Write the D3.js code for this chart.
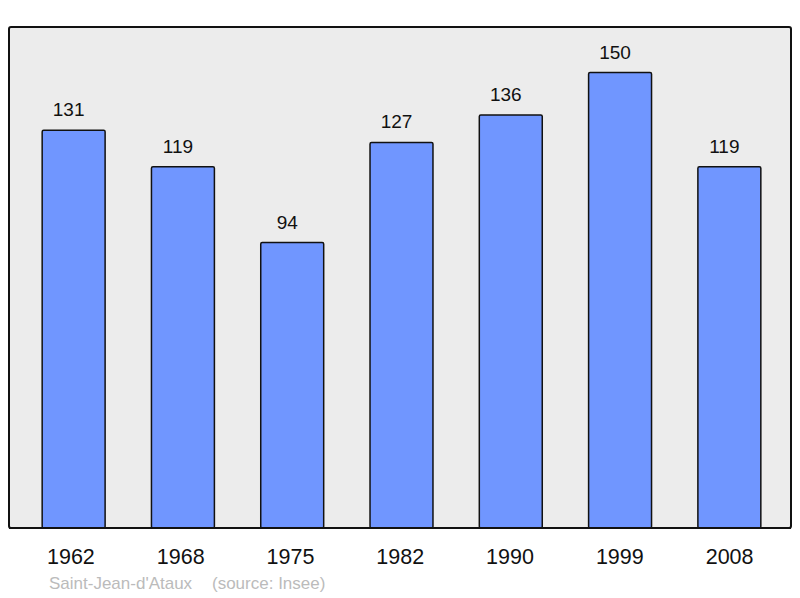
<!DOCTYPE html>
<html>
<head>
<meta charset="utf-8">
<script src="https://cdn.jsdelivr.net/npm/d3@7"></script>
<style>
  html, body { margin: 0; padding: 0; background: #ffffff; }
  svg { display: block; font-family: "Liberation Sans", Arial, sans-serif; }
</style>
</head>
<body>
<svg id="chart" width="800" height="598"></svg>
<script>
const years = ["1962", "1968", "1975", "1982", "1990", "1999", "2008"];
const population = [131, 119, 94, 127, 136, 150, 119];
const commune = "Saint-Jean-d'Ataux";
const sourceLabel = "(source: Insee)";

const svg = d3.select("#chart");
const frame = { left: 9, top: 27, right: 791, bottom: 528 };

svg.append("rect")
  .attr("x", frame.left).attr("y", frame.top)
  .attr("width", frame.right - frame.left).attr("height", frame.bottom - frame.top)
  .attr("rx", 2).attr("ry", 2)
  .attr("fill", "#ececec").attr("stroke", "#111").attr("stroke-width", 2);

const x = d3.scaleBand()
  .domain(years)
  .range([19, 784])
  .paddingInner(0.424)
  .paddingOuter(0.212);

// label positions (slightly different spacing in the original)
const xLabel = d3.scaleBand()
  .domain(years)
  .range([16, 784.5])
  .padding(0);

const y = d3.scaleLinear()
  .domain([0, 165])
  .range([frame.bottom, frame.top]);

const data = years.map((yr, i) => ({ year: yr, value: population[i] }));

svg.append("g").selectAll("rect")
  .data(data)
  .join("rect")
  .attr("x", d => x(d.year))
  .attr("y", d => y(d.value))
  .attr("width", x.bandwidth())
  .attr("height", d => y(0) - y(d.value))
  .attr("rx", 1.5).attr("ry", 1.5)
  .attr("fill", "#7096ff")
  .attr("stroke", "#111")
  .attr("stroke-width", 1.5);

svg.append("g").selectAll("text")
  .data(data)
  .join("text")
  .attr("x", d => x(d.year) + x.bandwidth() / 2 - 5)
  .attr("y", d => y(d.value) - 14)
  .attr("text-anchor", "middle")
  .attr("font-size", 19)
  .attr("fill", "#111")
  .text(d => d.value);

svg.append("line")
  .attr("x1", frame.left).attr("x2", frame.right)
  .attr("y1", frame.bottom).attr("y2", frame.bottom)
  .attr("stroke", "#111").attr("stroke-width", 2);

const xAxis = d3.axisBottom(xLabel).tickSize(0).tickPadding(0);
const ax = svg.append("g")
  .attr("transform", `translate(0, ${frame.bottom})`)
  .call(xAxis);
ax.select(".domain").remove();
ax.selectAll("text")
  .attr("font-size", 21.5)
  .attr("font-family", "Liberation Sans, Arial, sans-serif")
  .attr("fill", "#111")
  .attr("dy", 0)
  .attr("y", 36);

svg.append("text")
  .attr("x", 49).attr("y", 589)
  .attr("font-size", 17)
  .attr("fill", "#bbbbbb")
  .text(commune);
svg.append("text")
  .attr("x", 212).attr("y", 589)
  .attr("font-size", 17)
  .attr("fill", "#bbbbbb")
  .text(sourceLabel);
</script>
</body>
</html>
